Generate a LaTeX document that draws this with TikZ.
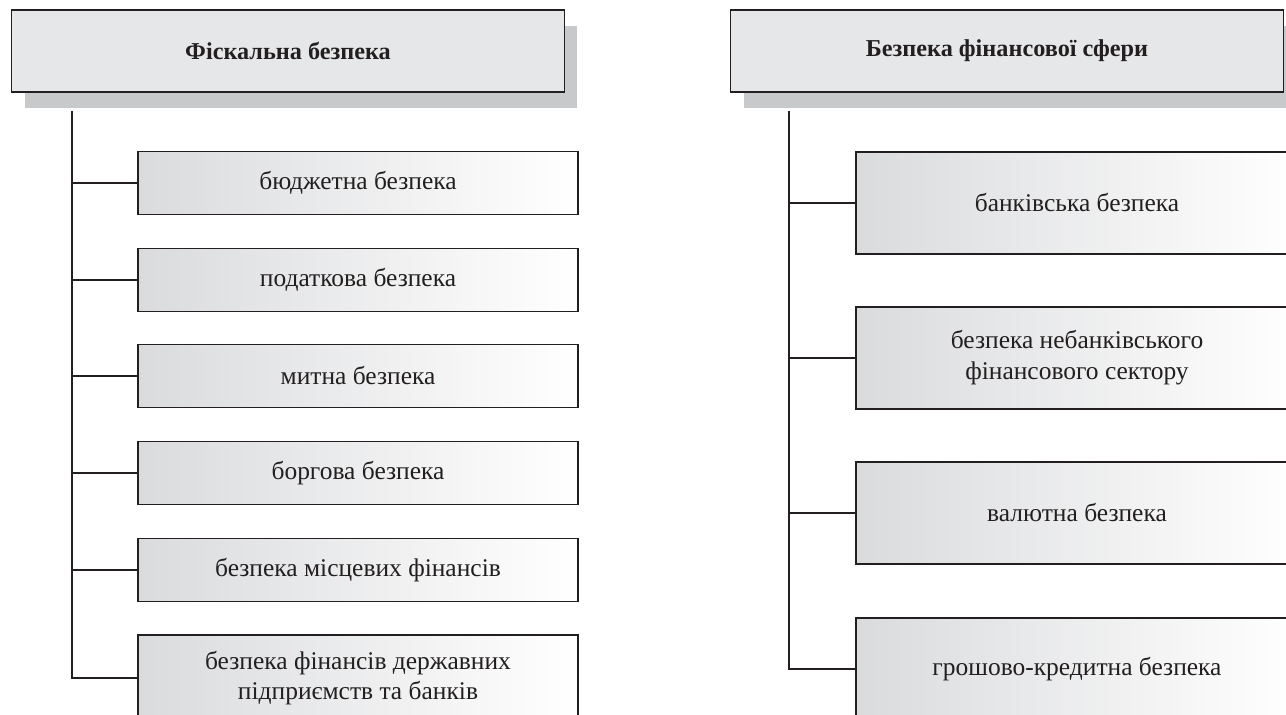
\documentclass[tikz,border=0pt]{standalone}
\usepackage{fontspec}
\setmainfont{Liberation Serif}
\usetikzlibrary{shadows}

\definecolor{headgray}{HTML}{E6E7E8}
\definecolor{shadowgray}{HTML}{C8C9CB}
\definecolor{boxgray}{HTML}{DADBDD}
\definecolor{inkgray}{HTML}{231F20}

\begin{document}
\begin{tikzpicture}[x=0.02cm, y=-0.02cm,
    every node/.style={rectangle, draw=inkgray, line width=0.7pt, align=center, text=inkgray, font=\fontsize{14.5}{17.5}\selectfont},
    head/.style={fill=headgray, minimum width=11.06cm, minimum height=1.64cm, font=\bfseries\fontsize{13.8}{17}\selectfont,
        drop shadow={shadow xshift=0.26cm, shadow yshift=-0.32cm, fill=shadowgray, opacity=1}},
    small/.style={left color=boxgray, right color=white, minimum width=8.8cm, minimum height=1.26cm},
    tall/.style={left color=boxgray, right color=white, minimum width=8.84cm, minimum height=2.04cm},
    link/.style={draw=inkgray, line width=0.7pt}]
        \useasboundingbox (0, 0) rectangle (1286, 715);
        \clip (0, 0) rectangle (1286, 715);

        % Fiscal security
        \node[head] (fisc) at (288, 51) {Фіскальна безпека};
        \coordinate (ftop) at (72, 111);

        \node[small] (budg) at (358, 183) {бюджетна безпека};
        \node[small] (tax) at (358, 280) {податкова безпека};
        \node[small] (cust) at (358, 376) {митна безпека};
        \node[small] (debt) at (358, 473) {боргова безпека};
        \node[small] (local) at (358, 570) {безпека місцевих фінансів};
        \node[small, minimum height=1.72cm] (state) at (358, 678) {безпека фінансів державних\\підприємств та банків};

        \draw[link] (ftop) |- (state.west);
        \draw[link] (budg.west) -- (budg.west -| ftop);
        \draw[link] (tax.west) -- (tax.west -| ftop);
        \draw[link] (cust.west) -- (cust.west -| ftop);
        \draw[link] (debt.west) -- (debt.west -| ftop);
        \draw[link] (local.west) -- (local.west -| ftop);

        % Financial sphere security
        \node[head] (fin) at (1007, 51) {Безпека фінансової сфери};
        \coordinate (rtop) at (789, 111);

        \node[tall] (bank) at (1077, 203) {банківська безпека};
        \node[tall] (nonbank) at (1077, 358) {безпека небанківського\\фінансового сектору};
        \node[tall] (curr) at (1077, 513) {валютна безпека};
        \node[tall] (money) at (1077, 669) {грошово-кредитна безпека};

        \draw[link] (rtop) |- (money.west);
        \draw[link] (bank.west) -- (bank.west -| rtop);
        \draw[link] (nonbank.west) -- (nonbank.west -| rtop);
        \draw[link] (curr.west) -- (curr.west -| rtop);
\end{tikzpicture}
\end{document}
